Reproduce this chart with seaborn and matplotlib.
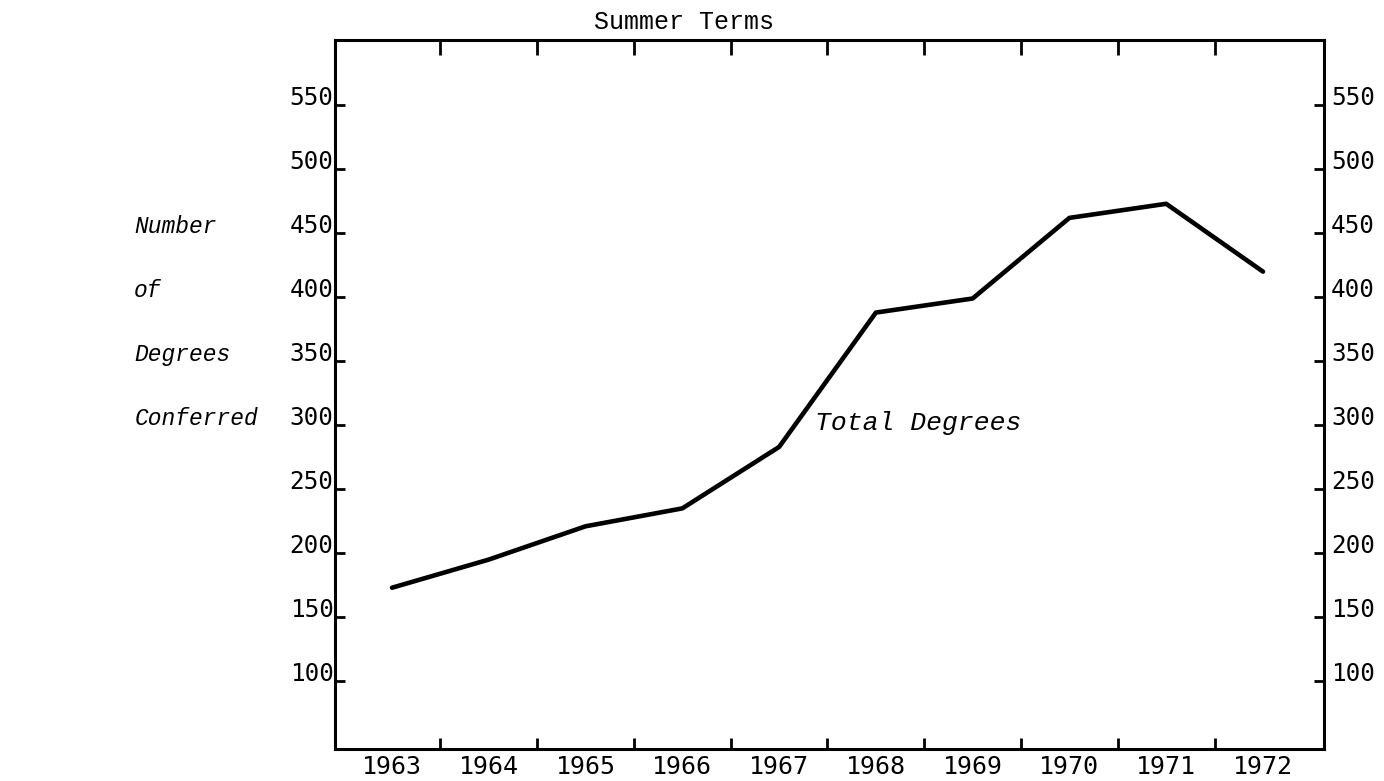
import numpy as np
import pandas as pd
import matplotlib
matplotlib.use("Agg")
import matplotlib.pyplot as plt
import seaborn as sns

# degrees conferred, summer terms
years = [1963, 1964, 1965, 1966, 1967, 1968, 1969, 1970, 1971, 1972]
total_degrees = [173, 195, 221, 235, 283, 388, 399, 462, 473, 420]
y_ticks = [100, 150, 200, 250, 300, 350, 400, 450, 500, 550]
side_label = ["Number", "of", "Degrees", "Conferred"]
side_label_levels = [450, 400, 350, 300]

df = pd.DataFrame({"year": years, "degrees": total_degrees})

sns.set_style("ticks")
plt.rcParams["font.family"] = ["DejaVu Sans Mono", "DejaVu Sans"]
plt.rcParams["text.color"] = "black"
plt.rcParams["xtick.color"] = "black"
plt.rcParams["ytick.color"] = "black"

fig = plt.figure(figsize=(13.84, 7.81), dpi=100)
ax = fig.add_axes([0.242, 0.041, 0.7146, 0.9078])

sns.lineplot(data=df, x="year", y="degrees", color="black", lw=3.3, ax=ax)

ax.set_xlim(1962.41, 1972.63)
ax.set_ylim(47, 601)
ax.set_xlabel("")
ax.set_ylabel("")

for s in ax.spines.values():
    s.set_visible(True)
    s.set_linewidth(2.2)
    s.set_color("black")

# years as labels, tick marks between years
ax.set_xticks(years)
ax.set_xticklabels([str(y) for y in years], fontsize=18)
ax.set_xticks([y + 0.5 for y in years[:-1]], minor=True)
ax.tick_params(axis="x", which="major", length=0, pad=4)
ax.tick_params(axis="x", which="minor", direction="in", top=True, bottom=True,
               length=8, width=2)
for t in ax.xaxis.get_minor_ticks():
    t.tick2line.set_markersize(11)

ax.set_yticks(y_ticks)
ax.set_yticklabels([str(v) for v in y_ticks], fontsize=17.5)
ax.tick_params(axis="y", direction="in", length=7, width=2, pad=1)
plt.setp(ax.get_yticklabels(), va="baseline")

ax2 = ax.twinx()
ax2.set_ylim(ax.get_ylim())
ax2.set_yticks(y_ticks)
ax2.set_yticklabels([str(v) for v in y_ticks], fontsize=17.5)
ax2.tick_params(axis="y", direction="in", length=7, width=2, pad=5)
plt.setp(ax2.get_yticklabels(), va="baseline")
for s in ax2.spines.values():
    s.set_visible(False)

# italic typewriter labels
trans = matplotlib.transforms.blended_transform_factory(fig.transFigure, ax.transData)
for txt, lvl in zip(side_label, side_label_levels):
    ax.text(0.097, lvl, txt, transform=trans, fontsize=16.5, style="italic",
            family="Liberation Mono", ha="left", va="baseline")

ax.text(1967.37, 302, "Total Degrees", fontsize=19, style="italic",
        family="Liberation Mono", ha="left", va="center")

fig.text(0.494, 0.972, "Summer Terms", fontsize=18, family="Liberation Mono",
         ha="center", va="center")

fig.savefig("out.png", dpi=100, facecolor="white")
